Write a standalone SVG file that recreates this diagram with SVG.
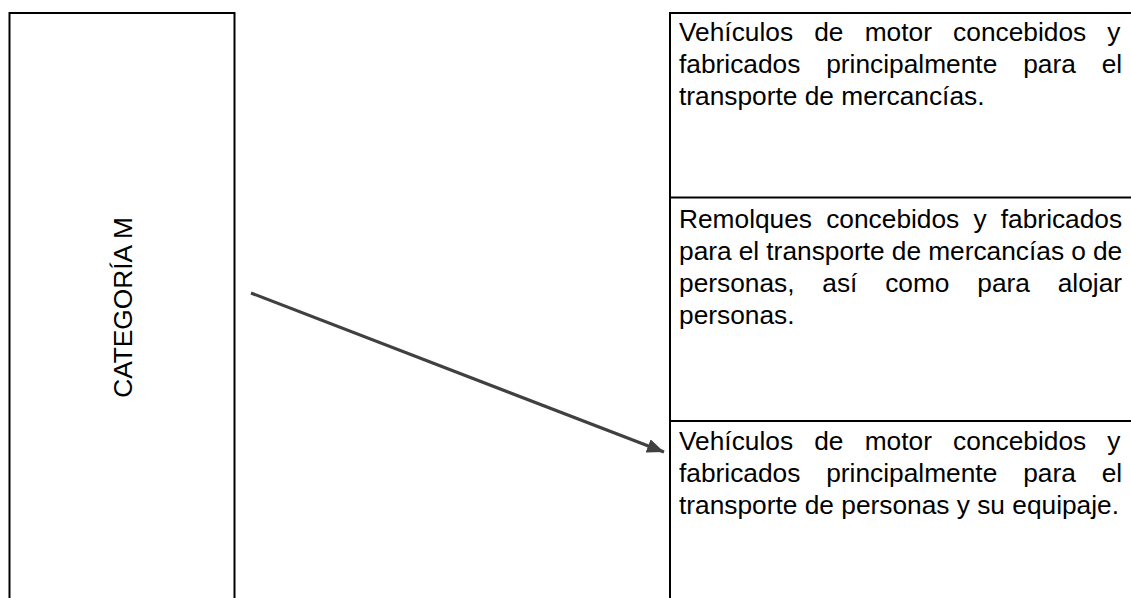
<svg xmlns="http://www.w3.org/2000/svg" width="1131" height="598" viewBox="0 0 1131 598">
<style>
.border{fill:none;stroke:#000;stroke-width:2}
.t{font-family:"Liberation Sans",Arial,sans-serif;font-size:26.3px;fill:#000}
.conn{stroke:#404040;stroke-width:3.2;fill:none}
</style>
<defs>
<marker id="ah" markerUnits="userSpaceOnUse" markerWidth="18" markerHeight="14" refX="17" refY="7" orient="auto">
<path d="M0,0 L17,7 L0,14 Z" fill="#404040"/>
</marker>
</defs>
<rect width="1131" height="598" fill="#fff"/>
<g id="categoria-m">
<path class="border" d="M9.5,600 V13 H234.5 V600"/>
<text class="t" text-anchor="middle" transform="translate(132,307.5) rotate(-90)" font-size="26">CATEGORÍA M</text>
</g>
<g id="panel">
<path class="border" d="M670,600 V13 H1133"/>
</g>
<g id="n1">
<text class="t"><tspan x="679" y="41" word-spacing="13.9">Vehículos de motor concebidos y</tspan><tspan x="679" y="73" word-spacing="18.6">fabricados principalmente para el</tspan><tspan x="679" y="105">transporte de mercancías.</tspan></text>
</g>
<g id="n2">
<path class="border" d="M670,197.5 H1133"/>
<text class="t"><tspan x="679" y="228" word-spacing="6.9">Remolques concebidos y fabricados</tspan><tspan x="679" y="260" word-spacing="-0.2">para el transporte de mercancías o de</tspan><tspan x="679" y="292" word-spacing="20.5">personas, así como para alojar</tspan><tspan x="679" y="324">personas.</tspan></text>
</g>
<g id="n3">
<path class="border" d="M670,421 H1133"/>
<text class="t"><tspan x="679" y="450" word-spacing="13.9">Vehículos de motor concebidos y</tspan><tspan x="679" y="482" word-spacing="18.6">fabricados principalmente para el</tspan><tspan x="679" y="514">transporte de personas y su equipaje.</tspan></text>
</g>
<g id="connectors">
<line class="conn" x1="251" y1="293" x2="664" y2="452" marker-end="url(#ah)"/>
</g>
</svg>
